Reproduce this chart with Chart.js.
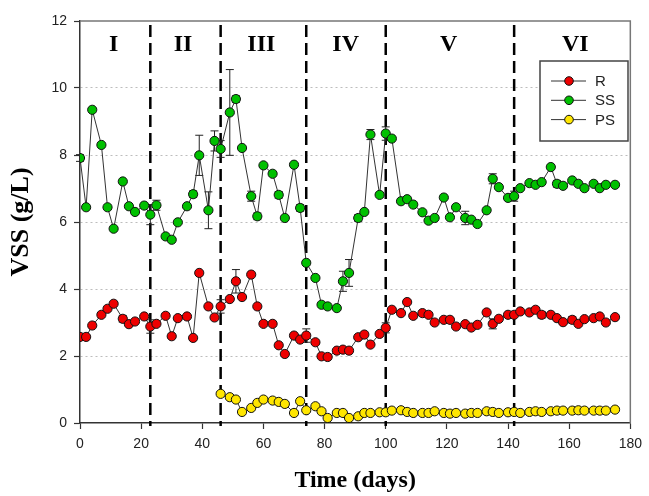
<!DOCTYPE html>
<html lang="en-US">
<head>
  <meta charset="utf-8">
  <title>VSS over time</title>
  <script src="https://cdn.jsdelivr.net/npm/chart.js@4"></script>
  <style>
    body { margin: 0; background: #fff; }
    canvas { display: block; }
  </style>
</head>
<body>
  <canvas id="chart" width="649" height="496"></canvas>
  <script>
    // sampling days (shared by all series)
    var days = [0, 2, 4, 7, 9, 11, 14, 16, 18, 21, 23, 25, 28, 30, 32, 35, 37, 39, 42, 44,
      46, 49, 51, 53, 56, 58, 60, 63, 65, 67, 70, 72, 74, 77, 79, 81, 84, 86, 88, 91,
      93, 95, 98, 100, 102, 105, 107, 109, 112, 114, 116, 119, 121, 123, 126, 128, 130, 133, 135, 137,
      140, 142, 144, 147, 149, 151, 154, 156, 158, 161, 163, 165, 168, 170, 172, 175];

    var rVals = [2.57, 2.57, 2.91, 3.23, 3.41, 3.56, 3.11, 2.95, 3.03, 3.18,
      2.88, 2.96, 3.2, 2.59, 3.13, 3.18, 2.54, 4.48, 3.48, 3.15,
      3.48, 3.7, 4.23, 3.76, 4.43, 3.48, 2.96, 2.96, 2.32, 2.06,
      2.61, 2.49, 2.61, 2.41, 1.99, 1.97, 2.16, 2.19, 2.16, 2.56,
      2.64, 2.34, 2.66, 2.84, 3.38, 3.28, 3.61, 3.2, 3.28, 3.23,
      3.0, 3.08, 3.08, 2.88, 2.95, 2.85, 2.93, 3.3, 2.96, 3.11,
      3.23, 3.23, 3.33, 3.3, 3.38, 3.23, 3.23, 3.13, 3.01, 3.08,
      2.96, 3.1, 3.13, 3.18, 3.0, 3.16];

    var ssVals = [7.91, 6.44, 9.35, 8.3, 6.44, 5.8, 7.21, 6.47, 6.3, 6.49,
      6.22, 6.5, 5.57, 5.47, 5.99, 6.47, 6.83, 7.99, 6.35, 8.42,
      8.18, 9.27, 9.67, 8.21, 6.77, 6.17, 7.69, 7.44, 6.81, 6.12,
      7.71, 6.42, 4.78, 4.33, 3.53, 3.48, 3.43, 4.23, 4.48, 6.12,
      6.3, 8.61, 6.81, 8.64, 8.49, 6.62, 6.68, 6.52, 6.29, 6.04,
      6.12, 6.73, 6.14, 6.44, 6.12, 6.07, 5.94, 6.35, 7.29, 7.04,
      6.72, 6.77, 7.01, 7.16, 7.11, 7.19, 7.64, 7.14, 7.08, 7.24,
      7.14, 7.01, 7.14, 7.01, 7.11, 7.11];

    // PS starts at day 46 (index 20 of days)
    var psStart = 20;
    var psVals = [0.87, 0.77, 0.7, 0.33, 0.45, 0.6, 0.7, 0.67, 0.63, 0.57,
      0.3, 0.65, 0.38, 0.5, 0.35, 0.15, 0.3, 0.3, 0.15, 0.2,
      0.3, 0.3, 0.32, 0.32, 0.37, 0.38, 0.33, 0.3, 0.3, 0.3,
      0.35, 0.3, 0.28, 0.3, 0.28, 0.3, 0.3, 0.35, 0.33, 0.3,
      0.32, 0.33, 0.3, 0.33, 0.35, 0.33, 0.35, 0.37, 0.37, 0.37,
      0.38, 0.37, 0.37, 0.37, 0.37, 0.4];

    // error bars (half width), 0 = none
    var rErr = [0, 0, 0, 0, 0, 0, 0.1, 0, 0, 0,
      0.2, 0, 0, 0, 0, 0, 0, 0, 0, 0,
      0.2, 0, 0.35, 0, 0, 0, 0, 0, 0, 0,
      0, 0, 0.2, 0, 0, 0, 0, 0, 0, 0,
      0, 0, 0, 0.15, 0, 0, 0, 0, 0, 0,
      0, 0, 0, 0, 0, 0, 0, 0, 0.15, 0,
      0, 0, 0, 0, 0, 0.1, 0, 0, 0, 0.1,
      0, 0, 0, 0, 0, 0];
    var ssErr = [0.1, 0, 0, 0, 0, 0, 0, 0, 0, 0,
      0.3, 0.15, 0, 0, 0, 0, 0.1, 0.6, 0.55, 0.3,
      0.25, 1.28, 0.1, 0, 0.15, 0.1, 0, 0, 0.1, 0,
      0, 0.1, 0, 0, 0, 0, 0, 0.3, 0.4, 0.1,
      0, 0.15, 0, 0.2, 0, 0, 0, 0, 0, 0,
      0, 0, 0, 0, 0.2, 0, 0, 0, 0.15, 0,
      0, 0.15, 0, 0, 0, 0, 0, 0.1, 0, 0,
      0, 0, 0, 0, 0, 0];

    var phaseBreaks = [23, 46, 74, 100, 142];
    var phaseLabels = ['I', 'II', 'III', 'IV', 'V', 'VI'];
    var phaseCenters = [11, 33.7, 59.3, 86.9, 120.6, 162];

    var seriesNames = ['R', 'SS', 'PS'];
    var seriesColors = ['#ee0000', '#00c000', '#ffe600'];

    function pts(vals, start, errs) {
      return vals.map(function (v, i) {
        return { x: days[start + i], y: v, e: errs ? errs[i] : 0 };
      });
    }

    function ds(i, data) {
      return {
        label: seriesNames[i],
        data: data,
        showLine: true,
        borderColor: '#333',
        borderWidth: 1,
        pointRadius: 4.6,
        pointBackgroundColor: seriesColors[i],
        pointBorderColor: '#111',
        pointBorderWidth: 1
      };
    }

    var decor = {
      id: 'decor',
      beforeDatasetsDraw: function (chart) {
        var c = chart.ctx, xs = chart.scales.x, ys = chart.scales.y, a = chart.chartArea;
        c.save();
        // phase dividers
        c.strokeStyle = '#000';
        c.lineWidth = 2.5;
        c.setLineDash([12, 6]);
        phaseBreaks.forEach(function (d) {
          var px = xs.getPixelForValue(d);
          c.beginPath();
          c.moveTo(px, a.top + 4);
          c.lineTo(px, a.bottom + 3);
          c.stroke();
        });
        c.setLineDash([]);
        // error bars
        c.strokeStyle = '#222';
        c.lineWidth = 1;
        chart.data.datasets.forEach(function (set) {
          set.data.forEach(function (p) {
            if (!p.e) return;
            var px = xs.getPixelForValue(p.x);
            var y1 = ys.getPixelForValue(p.y + p.e), y2 = ys.getPixelForValue(p.y - p.e);
            c.beginPath();
            c.moveTo(px, y1); c.lineTo(px, y2);
            c.moveTo(px - 4, y1); c.lineTo(px + 4, y1);
            c.moveTo(px - 4, y2); c.lineTo(px + 4, y2);
            c.stroke();
          });
        });
        c.restore();
      },
      afterDraw: function (chart) {
        var c = chart.ctx, xs = chart.scales.x, a = chart.chartArea;
        c.save();
        // top and right frame
        c.strokeStyle = '#777';
        c.lineWidth = 1.5;
        c.beginPath();
        c.moveTo(a.left, a.top); c.lineTo(a.right, a.top); c.lineTo(a.right, a.bottom);
        c.stroke();
        // phase labels
        c.fillStyle = '#000';
        c.font = 'bold 24px "Liberation Serif", serif';
        c.textAlign = 'center';
        c.textBaseline = 'middle';
        phaseLabels.forEach(function (t, i) {
          c.fillText(t, xs.getPixelForValue(phaseCenters[i]), 45);
        });
        // legend box
        var bx = 540, by = 61, bw = 88, bh = 80;
        c.fillStyle = '#fff';
        c.fillRect(bx, by, bw, bh);
        c.strokeStyle = '#444';
        c.lineWidth = 1.5;
        c.strokeRect(bx, by, bw, bh);
        c.font = '15px "Liberation Sans", Arial, sans-serif';
        c.textAlign = 'left';
        seriesNames.forEach(function (n, i) {
          var ly = 81 + i * 19.3;
          c.strokeStyle = '#333';
          c.lineWidth = 1;
          c.beginPath();
          c.moveTo(551, ly); c.lineTo(586, ly);
          c.stroke();
          c.beginPath();
          c.arc(569, ly, 4.3, 0, Math.PI * 2);
          c.fillStyle = seriesColors[i];
          c.fill();
          c.strokeStyle = '#111';
          c.stroke();
          c.fillStyle = '#222';
          c.fillText(n, 595, ly + 1);
        });
        c.restore();
      }
    };

    var config = {
      type: 'scatter',
      data: {
        datasets: [
          ds(0, pts(rVals, 0, rErr)),
          ds(1, pts(ssVals, 0, ssErr)),
          ds(2, pts(psVals, psStart, null))
        ]
      },
      options: {
        responsive: false,
        animation: false,
        layout: { padding: { left: 6, right: 14, top: 21, bottom: 0 } },
        plugins: {
          legend: { display: false },
          tooltip: { enabled: false }
        },
        scales: {
          x: {
            type: 'linear',
            min: 0,
            max: 180,
            afterFit: function (s) { s.height = 73; },
            ticks: {
              stepSize: 20,
              padding: 7,
              color: '#222',
              font: { family: '"Liberation Sans", Arial, sans-serif', size: 14 }
            },
            grid: { drawOnChartArea: false, tickLength: 6, tickColor: '#333', tickWidth: 1.2 },
            border: { color: '#333', width: 1.5 },
            title: {
              display: true,
              text: 'Time (days)',
              color: '#000',
              padding: { top: 0, bottom: 1 },
              font: { family: '"Liberation Serif", serif', size: 24, weight: 'bold' }
            }
          },
          y: {
            min: 0,
            max: 12,
            afterFit: function (s) { s.width = 74; },
            ticks: {
              stepSize: 2,
              padding: 7,
              color: '#222',
              font: { family: '"Liberation Sans", Arial, sans-serif', size: 14 }
            },
            grid: {
              color: function (ctx) {
                var v = ctx.tick && ctx.tick.value;
                return (v === 0 || v === 12) ? 'rgba(0,0,0,0)' : '#bdbdbd';
              },
              tickLength: 6,
              tickColor: '#333',
              tickWidth: 1.2
            },
            border: { color: '#333', width: 1.5, dash: [2, 3] },
            title: {
              display: true,
              text: 'VSS (g/L)',
              color: '#000',
              padding: { top: 0, bottom: 0 },
              font: { family: '"Liberation Serif", serif', size: 26, weight: 'bold' }
            }
          }
        }
      },
      plugins: [decor]
    };

    window.myChart = new Chart(document.getElementById('chart').getContext('2d'), config);
  </script>
</body>
</html>
